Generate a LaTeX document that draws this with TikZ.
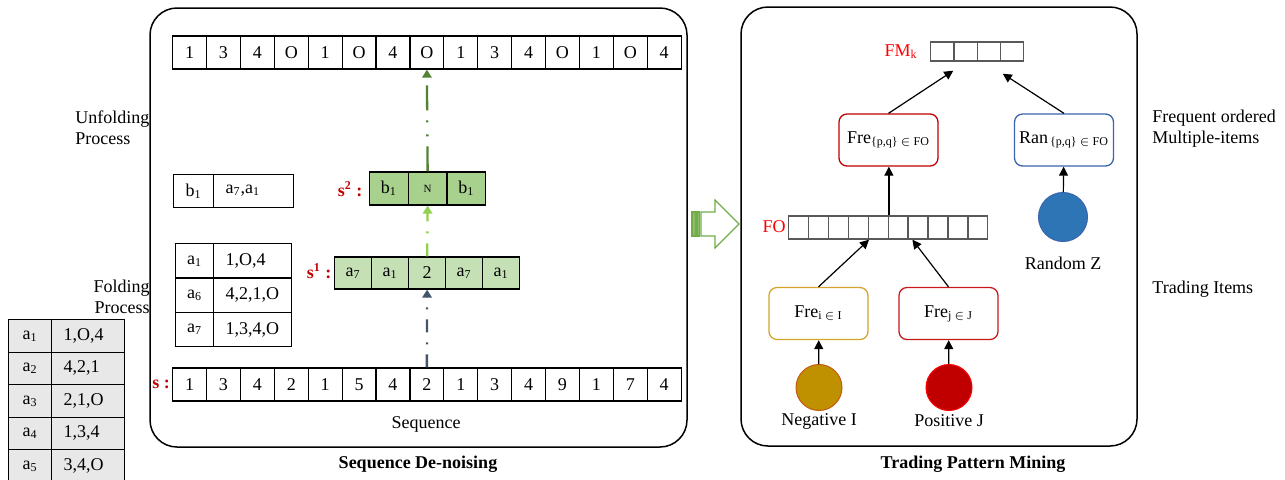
\documentclass[tikz,border=0pt]{standalone}
\usepackage{fontspec}
\setmainfont{Liberation Serif}
\usepackage{tikz}
\usetikzlibrary{arrows.meta}
\definecolor{seqred}{HTML}{C00000}
\definecolor{hotred}{HTML}{FF0000}
\definecolor{paleg}{HTML}{C5E0B4}
\definecolor{midg}{HTML}{A9D18E}
\definecolor{leafg}{HTML}{92D050}
\definecolor{darkg}{HTML}{548235}
\definecolor{arrowg}{HTML}{70AD47}
\definecolor{slate}{HTML}{44546A}
\definecolor{tabgray}{HTML}{E8E8E8}
\definecolor{goldline}{HTML}{D4A52C}
\definecolor{goldfill}{HTML}{BF9000}
\definecolor{rust}{HTML}{C55A11}
\definecolor{zblue}{HTML}{2E75B6}
\definecolor{zline}{HTML}{3A63AD}
\tikzset{cell/.style = {draw,line width=0.6pt,inner sep=0pt,minimum width=16.95pt,minimum height=16.5pt,anchor=west},
         key/.style = {draw,line width=0.6pt,inner sep=0pt,anchor=north west},
         val/.style = {draw,line width=0.6pt,inner xsep=6pt,inner ysep=0pt,align=left,anchor=north west},
         slot/.style = {draw=black!65,line width=0.7pt,inner sep=0pt,anchor=west},
         panel/.style = {line width=0.75pt,rounded corners=13.5pt},
         itembox/.style = {draw,rounded corners=4pt,line width=0.65pt,minimum width=49.5pt,minimum height=26pt,inner sep=0pt},
         ball/.style = {circle,draw,line width=0.5pt,minimum size=23pt,inner sep=0pt},
         arr/.style = {-{Triangle[width=4.5pt,length=4.5pt]},line width=0.6pt},
         flow/.style = {-{Triangle[width=4.7pt,length=4pt]},line width=1.15pt,dash pattern=on 6.5pt off 5pt on 1pt off 5pt},
         note/.style = {inner sep=0pt}}

\begin{document}
\begin{tikzpicture}[x=0.5pt,y=-0.5pt,every node/.style={font=\fontsize{9}{10.5}\selectfont}]
    \clip (0,0) rectangle (1285,479);
    \draw[panel] (150,8) rectangle (687,447);
    \draw[panel] (741,7) rectangle (1137,446);

    \foreach \v [count=\i] in {1,3,4,O,1,O,4,O,1,3,4,O,1,O,4}
        \node[cell] (t\i) at ({172+33.9*(\i-1)},52.5) {\v};
    \foreach \v [count=\i] in {1,3,4,2,1,5,4,2,1,3,4,9,1,7,4}
        \node[cell] (s\i) at ({172+33.9*(\i-1)},384.5) {\v};
    \foreach \v [count=\i] in {a\textsubscript{7},a\textsubscript{1},2,a\textsubscript{7},a\textsubscript{1}}
        \node[cell,fill=paleg,minimum width=18.5pt,minimum height=16pt] (p\i) at ({334+37*(\i-1)},273) {\v};
    \node[cell,fill=midg,minimum width=19.35pt] (q1) at (369,188.5) {b\textsubscript{1}};
    \node[cell,fill=midg,minimum width=19.35pt] (q2) at (407.7,188.5) {\fontsize{5.5}{6}\selectfont N};
    \node[cell,fill=midg,minimum width=19.35pt] (q3) at (446.4,188.5) {b\textsubscript{1}};

    \node[text=seqred] (slab) at (161,384) {\textbf{s :}};
    \node[text=seqred] (s1lab) at (319,271) {\textbf{s\textsuperscript{1} :}};
    \node[text=seqred] (s2lab) at (350,189) {\textbf{s\textsuperscript{2} :}};

    \node[key,minimum width=20pt,minimum height=16.5pt] (bk) at (173,174) {b\textsubscript{1}};
    \node[val,text width=28pt,minimum height=16.5pt] (bv) at (213,174) {a\textsubscript{7},a\textsubscript{1}};
    \foreach \k/\v [count=\i] in {1/{1,O,4},6/{4,2,1,O},7/{1,3,4,O}} {
        \node[key,minimum width=19pt,minimum height=17.17pt] (fk\i) at (175,{243+34.33*(\i-1)}) {a\textsubscript{\k}};
        \node[val,text width=27pt,minimum height=17.17pt] (fv\i) at (213,{243+34.33*(\i-1)}) {\v};
    }
    \foreach \k/\v [count=\i] in {1/{1,O,4},2/{4,2,1},3/{2,1,O},4/{1,3,4},5/{3,4,O}} {
        \node[key,fill=tabgray,minimum width=21.5pt,minimum height=16.25pt] (gk\i) at (8,{319+32.5*(\i-1)}) {a\textsubscript{\k}};
        \node[val,fill=tabgray,text width=24.5pt,minimum height=16.25pt] (gv\i) at (51,{319+32.5*(\i-1)}) {\v};
    }

    \node[note,align=left,anchor=west] (unfold) at (75,128) {Unfolding\\Process};
    \node[note,align=right,anchor=east] (fold) at (150,297) {Folding\\Process};
    \node (seqtxt) at (426,424) {Sequence};
    \node (lefttitle) at (418,464) {\textbf{Sequence De-noising}};
    \node (righttitle) at (973,464) {\textbf{Trading Pattern Mining}};
    \node[note,align=left,anchor=west] (freqtxt) at (1152,129) {Frequent ordered\\Multiple-items};
    \node[note,anchor=west] (tradetxt) at (1152,289) {Trading Items};

    \draw[flow,slate] (s8.north) -- (p3.south);
    \draw[flow,leafg] (p3.north) -- (q2.south);
    \draw[flow,darkg,dash pattern=on 12.5pt off 5pt on 1pt off 6pt on 1pt off 5pt] (q2.north) -- (t8.south);

    \draw[arrowg,line width=0.6pt,fill=white] (701,212) -- (715,212) -- (715,200) -- (739,224) -- (715,248) -- (715,236) -- (701,236) -- cycle;
    \draw[arrowg,line width=0.6pt,fill=arrowg!80] (692,212) rectangle (696,236) (697.5,212) rectangle (699.5,236);

    \foreach \i in {1,...,4}
        \node[slot,minimum width=11.63pt,minimum height=9.5pt] (m\i) at ({930+23.25*(\i-1)},51.5) {};
    \foreach \i in {1,...,10}
        \node[slot,minimum width=9.95pt,minimum height=11.5pt] (o\i) at ({788+19.9*(\i-1)},227.5) {};
    \node[text=hotred] (fmk) at (901,52) {FM\textsubscript{k}};
    \node[text=hotred] (fo) at (774,227) {FO};
    \node[itembox,draw=seqred] (fre) at (888.5,140) {Fre\textsubscript{\{p,q\} $\in$ FO}};
    \node[itembox,draw=zline] (ran) at (1064,140) {Ran\textsubscript{\,\{p,q\} $\in$ FO}};
    \node[itembox,draw=goldline] (frei) at (818.5,313.5) {Fre\textsubscript{i $\in$ I}};
    \node[itembox,draw=seqred!90] (frej) at (948.5,313.5) {Fre\textsubscript{j $\in$ J}};
    \node[ball,fill=goldfill,draw=rust] (neg) at (819,387.5) {};
    \node[ball,fill=seqred,draw=hotred] (pos) at (949,387.5) {};
    \node[ball,fill=zblue,draw=zline,minimum size=24.5pt] (rnd) at (1063,217) {};
    \node (negtxt) at (819,421) {Negative I};
    \node (postxt) at (949,421) {Positive J};
    \node (rndtxt) at (1063,263) {Random Z};

    \draw[arr] (neg) -- (frei);
    \draw[arr] (pos) -- (frej);
    \draw[arr] (rnd) -- (ran);
    \draw[arr] (frei.north) -- (o4.south east);
    \draw[arr] (frej.north) -- ([xshift=2.5pt]o7.south west);
    \draw[arr] (o5.north east) -- (o5.north east |- fre.south);
    \draw[arr] (fre.north) -- ([yshift=-4.5pt]m2.south west);
    \draw[arr] (ran.north) -- ([xshift=1.5pt,yshift=-6pt]m4.south west);
\end{tikzpicture}
\end{document}
